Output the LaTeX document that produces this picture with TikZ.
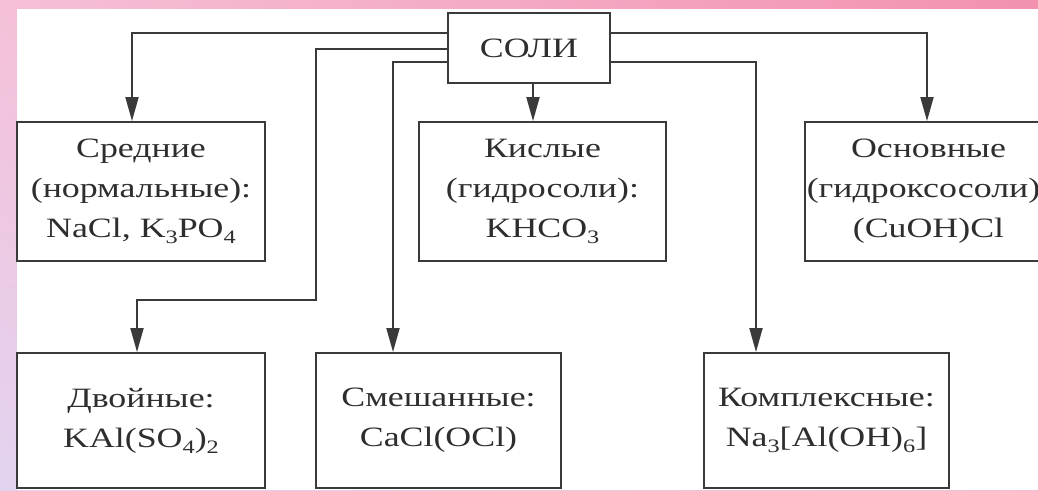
\documentclass[tikz,border=0pt]{standalone}
\usepackage{fontspec}
\setmainfont[FakeStretch=1.28]{Liberation Serif}
\usetikzlibrary{arrows.meta,shadings}
\definecolor{lc}{HTML}{3A3A3A}
\definecolor{tc}{HTML}{2E2E2E}
\newcommand{\lowsub}[1]{\raisebox{-6pt}{\fontsize{19}{19}\selectfont #1}}
\begin{document}
\begin{tikzpicture}[x=1pt,y=-1pt,
  box/.style={draw=lc,line width=1.9pt,fill=white,rectangle,inner sep=0pt,text=tc,align=center,
    font=\fontsize{28}{40}\selectfont},
  arr/.style={draw=lc,line width=1.9pt,-{Triangle[length=24pt,width=13pt]}}]
\useasboundingbox (0,0) rectangle (1038,490);
\shade[upper left={rgb,255:red,246;green,192;blue,216},upper right={rgb,255:red,242;green,145;blue,175},
  lower left={rgb,255:red,226;green,212;blue,240},lower right={rgb,255:red,240;green,190;blue,215}]
  (0,0) rectangle (1038,490);
\fill[white] (17,9) rectangle (1038,490);
\node[box,minimum width=162pt,minimum height=70pt] (soli) at (529,48) {СОЛИ};
\node[box,minimum width=248pt,minimum height=139pt] (sred) at (141,191.5) {Средние\\(нормальные):\\NaCl, K\lowsub{3}PO\lowsub{4}};
\node[box,minimum width=247pt,minimum height=139pt] (kisl) at (542.5,191.5) {Кислые\\(гидросоли):\\KHCO\lowsub{3}};
\node[box,minimum width=247pt,minimum height=139pt] (osn) at (928.5,191.5) {Основные\\(гидроксосоли):\\(CuOH)Cl};
\node[box,minimum width=248pt,minimum height=135pt] (dvoin) at (141,420.5) {Двойные:\\KAl(SO\lowsub{4})\lowsub{2}};
\node[box,minimum width=245pt,minimum height=135pt] (smesh) at (438.5,420.5) {Смешанные:\\CaCl(OCl)};
\node[box,minimum width=245pt,minimum height=135pt] (kompl) at (826.5,420.5) {Комплексные:\\Na\lowsub{3}[Al(OH)\lowsub{6}]};
\coordinate (bend) at (316,300);
\draw[arr] ([yshift=15pt]soli.west) -| ([xshift=-9pt]sred.north);
\draw[arr] ([yshift=-1pt]soli.west) -| (bend) -| ([xshift=-4pt]dvoin.north);
\draw[arr] ([yshift=-14pt]soli.west) -| ([xshift=-45.5pt]smesh.north);
\draw[arr] ([xshift=4pt]soli.south) -- ([xshift=4pt]soli.south |- kisl.north);
\draw[arr] ([yshift=15pt]soli.east) -| ([xshift=-1.5pt]osn.north);
\draw[arr] ([yshift=-14pt]soli.east) -| ([xshift=-70.5pt]kompl.north);
\end{tikzpicture}
\end{document}
